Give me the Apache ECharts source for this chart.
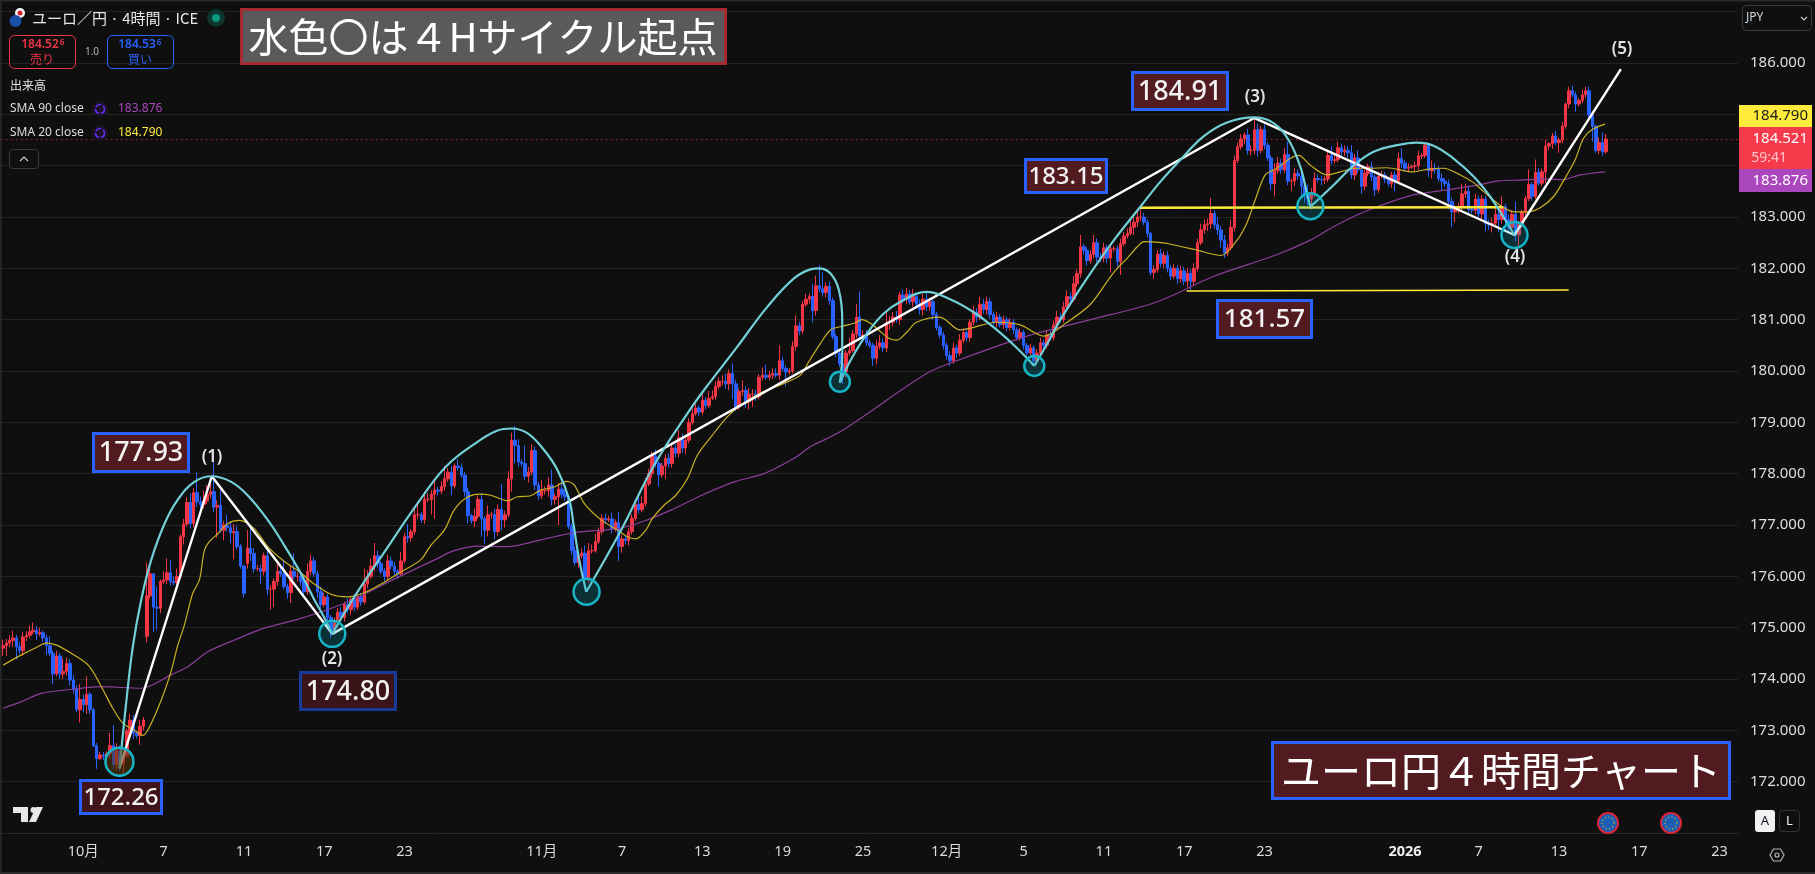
<!DOCTYPE html>
<html>
<head>
<meta charset="utf-8">
<script src="https://cdn.jsdelivr.net/npm/echarts@6/dist/echarts.min.js"></script>
<style>
html, body { margin: 0; padding: 0; background: #0f0f0f; }
#main { width: 1815px; height: 874px; }
</style>
</head>
<body>
<div id="main"></div>
<script>
// 4h closes, 10 per row
const closes = [
  174.65,174.7,174.75,174.8,174.63,174.55,174.82,174.85,174.92,174.95,
  174.88,174.9,174.8,174.65,174.5,174.1,174.45,174.1,174.15,174.3,
  173.98,173.8,173.4,173.6,173.5,173.7,173.4,172.7,172.45,172.52,
  172.5,172.55,172.7,172.33,172.6,172.35,172.5,172.99,173.2,172.95,
  172.9,173.08,173.2,175.62,176.05,175.4,175.38,175.9,175.93,176.07,
  175.9,175.88,176.0,176.77,177.02,177.44,177.03,177.63,177.45,177.4,
  177.47,177.6,177.65,177.35,177.38,176.9,177.0,176.95,176.85,176.87,
  176.58,176.2,175.67,176.55,176.45,176.15,176.15,176.1,176.4,175.75,
  175.75,175.9,176.1,176.05,175.8,175.68,176.1,176.0,176.0,175.9,
  175.7,176.1,176.3,176.05,175.7,175.45,175.6,175.2,174.95,175.1,
  175.3,175.2,175.45,175.35,175.55,175.4,175.6,175.5,175.85,176.0,
  176.2,176.4,176.25,176.1,176.0,176.3,176.2,176.1,176.05,176.3,
  176.77,176.75,176.87,177.2,177.2,177.1,177.5,177.5,177.6,177.68,
  177.66,177.75,177.9,178.03,177.76,178.15,178.12,177.97,177.65,177.18,
  177.08,177.17,177.5,177.12,176.9,177.2,177.2,176.87,177.3,177.1,
  177.2,177.9,178.65,178.55,178.23,178.2,177.95,178.03,178.45,177.78,
  177.57,177.67,177.67,177.78,177.5,177.55,177.7,177.6,177.55,176.97,
  176.5,176.27,176.4,176.45,175.96,176.5,176.5,176.68,176.87,177.13,
  177.1,177.12,176.93,177.05,176.58,176.73,176.7,176.87,177.13,177.4,
  177.3,177.42,177.8,178.0,178.35,178.2,177.98,178.15,178.3,178.2,
  178.5,178.4,178.7,178.5,178.65,179.0,179.17,179.28,179.2,179.43,
  179.33,179.47,179.5,179.7,179.8,179.8,179.75,179.95,179.75,179.3,
  179.6,179.62,179.4,179.55,179.55,179.5,179.88,179.92,179.88,179.92,
  179.95,179.92,180.2,180.05,179.98,180.0,180.48,180.88,180.78,181.3,
  181.4,181.45,181.18,181.66,181.6,181.53,181.65,181.37,180.67,180.35,
  180.14,179.98,180.35,180.4,180.72,181.05,180.68,180.7,180.55,180.5,
  180.25,180.48,180.55,180.45,180.95,180.95,181.05,181.0,181.48,181.4,
  181.5,181.35,181.45,181.3,181.2,181.4,181.25,181.35,181.1,180.85,
  180.7,180.5,180.3,180.2,180.45,180.35,180.6,180.75,180.65,180.95,
  181.15,181.05,181.3,181.2,181.35,181.1,180.95,181.05,180.9,181.0,
  180.85,180.95,180.8,180.65,180.75,180.5,180.35,180.45,180.2,180.35,
  180.55,180.5,180.7,180.65,180.9,181.05,181.0,181.25,181.45,181.4,
  181.7,181.9,182.42,182.35,182.15,182.27,182.5,182.22,182.2,182.4,
  182.2,182.38,182.38,182.13,182.48,182.63,182.68,182.8,182.9,183.0,
  183.0,182.9,182.68,181.92,181.98,182.28,182.1,182.25,182.0,181.85,
  182.0,181.8,181.95,181.75,181.9,181.75,182.0,182.5,182.75,182.85,
  182.87,183.07,182.85,182.75,182.55,182.3,182.4,182.8,184.1,184.37,
  184.52,184.6,184.3,184.3,184.7,184.3,184.7,184.4,184.15,183.65,
  183.9,184.05,183.92,184.22,183.7,183.7,183.85,183.8,183.6,183.43,
  183.35,183.47,183.75,183.73,183.72,183.74,184.2,184.1,184.12,184.35,
  184.27,184.3,184.25,183.82,184.15,183.92,183.6,183.85,183.98,183.78,
  183.53,183.8,183.82,183.74,183.65,183.82,183.7,184.14,184.05,183.95,
  183.97,183.99,184.0,184.19,184.2,184.4,183.9,183.95,183.93,183.75,
  183.7,183.65,183.3,183.1,183.15,183.2,183.45,183.5,183.15,183.13,
  183.35,183.06,183.35,182.87,182.85,182.88,183.05,182.95,183.2,182.95,
  182.8,183.05,182.65,182.85,183.1,183.36,183.63,183.4,183.87,183.66,
  183.88,184.38,184.43,184.58,184.45,184.5,184.77,185.2,185.46,185.38,
  185.2,185.27,185.38,185.46,184.99,184.77,184.3,184.45,184.27,184.52
];
// wick above the body, in 0.01 yen
const upWick = [
  12,8,10,14,6,9,10,8,12,15, 8,10,4,6,18,5,10,6,25,12, 8,10,8,30,10,35,5,3,5,6, 6,4,25,40,15,10,8,5,12,10,
  4,12,6,65,15,0,40,4,17,28, 25,10,15,5,10,10,18,8,40,10, 20,18,20,58,10,30,8,20,10,15, 12,5,3,35,45,10,8,8,6,15,
  8,6,18,10,25,6,12,35,8,8, 6,15,12,8,6,10,8,6,5,10, 8,10,6,12,6,10,5,8,30,12, 15,25,10,5,6,12,8,8,4,18,
  8,25,5,15,25,5,15,12,8,17, 6,10,25,8,12,5,13,8,6,8, 4,15,8,12,5,18,6,12,10,50, 8,15,15,28,12,5,35,10,12,8,
  6,20,8,15,30,6,12,14,8,4, 6,8,8,10,15,15,12,15,8,8, 10,6,12,6,20,8,6,8,8,5, 15,15,12,10,8,12,5,6,8,10,
  10,8,15,8,8,8,10,8,5,12, 6,14,12,10,8,12,15,8,20,8, 6,20,8,12,10,8,6,15,20,8, 10,10,30,8,6,6,10,20,8,6,
  10,6,25,20,40,32,8,10,6,5, 5,6,6,25,8,25,50,10,10,5, 5,12,15,8,20,12,10,12,6,10, 12,8,15,8,10,10,15,8,6,5,
  5,6,5,8,10,6,12,8,8,6, 12,8,15,10,10,8,6,10,6,8, 6,8,6,5,8,5,5,8,5,8, 10,6,10,8,8,12,8,10,12,8,
  15,8,23,6,6,8,15,8,8,10, 6,10,5,6,10,8,10,15,12,10, 20,8,5,3,8,8,10,8,8,6, 8,6,10,8,10,8,10,8,12,10,
  10,30,6,15,8,10,8,15,10,8, 10,5,12,10,21,12,8,10,6,5, 15,12,8,12,25,5,10,8,8,10, 20,10,12,8,8,6,12,18,10,12,
  8,10,8,15,8,15,6,8,6,10, 5,8,8,6,5,6,8,12,20,6, 8,3,8,10,5,4,5,15,10,6, 10,5,8,8,8,8,20,15,10,4,
  10,6,8,6,8,10,15,6,20,6, 10,8,25,8,5,5,30,5,25,8, 6,12,3,6,10,5,8,3,8,10, 6,5,10,8,8,5,3,10,20,10
];
// wick below the body, in 0.01 yen
const downWick = [
  15,20,8,12,25,6,10,8,6,5, 12,5,8,18,5,20,5,10,10,8, 10,8,5,25,15,18,8,3,20,3, 8,15,10,8,10,15,18,3,8,12,
  6,18,8,12,5,48,43,10,5,8, 8,5,6,3,15,5,10,8,10,22, 8,6,8,10,60,5,20,8,20,52, 6,5,8,10,15,8,5,25,8,12,
  40,35,8,6,5,12,20,6,10,8, 12,6,8,6,12,8,6,10,15,8, 10,6,8,6,10,8,6,8,5,8, 5,10,8,6,10,8,6,8,10,6,
  5,10,8,6,8,6,8,6,30,48, 8,6,8,6,18,5,6,5,10,15, 6,12,5,35,27,12,8,15,8,20, 15,5,25,35,10,6,8,12,6,10,
  8,6,8,12,12,10,55,8,8,5, 8,6,10,5,20,8,6,4,5,6, 8,4,10,6,28,12,8,10,6,5, 8,5,6,4,8,8,23,6,25,8,
  8,8,8,10,12,6,5,4,8,5, 8,5,4,6,5,8,10,12,30,8, 6,8,12,15,25,8,5,6,5,6, 8,5,10,6,28,5,5,8,8,6,
  5,8,23,10,6,8,10,8,5,8, 6,23,10,5,4,8,6,8,6,5, 15,12,6,8,8,15,8,6,10,8, 10,6,10,8,10,12,8,8,10,6,
  6,8,8,10,6,10,6,6,8,8, 6,10,6,8,10,8,6,10,5,8, 8,6,8,5,6,8,5,6,10,6, 6,8,6,5,6,8,5,6,6,8,
  5,6,8,8,10,6,8,10,8,8, 10,28,6,10,26,5,5,4,15,10, 8,6,8,6,12,6,8,10,8,8, 6,10,8,8,12,18,8,6,5,8,
  12,10,8,10,15,10,6,5,8,5, 6,10,8,10,8,12,6,8,6,12, 25,6,8,6,8,20,10,8,18,15, 12,20,8,6,10,8,6,8,6,5,
  8,8,10,8,10,6,15,8,6,8, 12,6,5,8,6,8,20,6,10,5, 8,3,10,8,6,5,12,15,8,6, 18,6,15,30,20,8,10,8,8,6,
  8,10,12,15,10,15,8,25,8,20, 10,8,12,25,6,6,5,8,5,5, 6,22,8,10,5,20,6,5,8,5, 15,5,5,6,5,30,5,8,8,4
];
// bars that do not open at the previous close (weekend gaps)
const gapOpenIndex = [0, 43, 73];
const gapOpenValue = [174.6, 174.83, 176.25];

const slotCount = 519; // bars plus the empty space on the right
const tickIndex = [24,48,72,96,120,161,185,209,233,257,282,305,329,353,377,419,441,465,489,513];
const tickText = ['10月','7','11','17','23','11月','7','13','19','25','12月','5','11','17','23','2026','7','13','17','23'];
const lastPrice = 184.521;

// [bar index, price]
const sma20 = [[0,174.27],[5.5,174.47],[9.5,174.6],[13,174.7],[16,174.66],[20.4,174.5],[25.6,174.26],[29.4,173.85],[32.8,173.43],[35.8,173.14],[39.3,173.0],[41.8,172.9],[43.8,173.07],[47.3,173.59],[50.2,174.14],[52.2,174.65],[54.2,175.05],[56.7,175.67],[58.7,175.93],[60.2,176.51],[61.7,176.68],[64.2,176.83],[67.2,177.03],[70.6,177.09],[75.1,176.93],[79.1,176.58],[84.1,176.29],[88.6,176.09],[93,175.85],[98,175.65],[103,175.6],[108,175.68],[113,175.85],[118,176.05],[124.8,176.32],[127.9,176.61],[131.9,176.9],[134.8,177.29],[138.3,177.52],[142.3,177.6],[145.8,177.58],[150.8,177.47],[153.7,177.55],[157.7,177.57],[160.7,177.68],[164.7,177.74],[168.4,177.85],[170.7,177.78],[173.7,177.42],[178.7,177.1],[183.7,176.9],[186.6,176.77],[189.1,176.73],[192.1,176.9],[194.1,177.13],[197.6,177.39],[201.1,177.58],[204.6,177.91],[207.5,178.36],[212,178.75],[216.5,179.11],[220.5,179.34],[226.4,179.57],[233.4,179.76],[238.3,179.92],[240.8,180.18],[244.3,180.54],[247.3,180.8],[251.3,180.88],[254.3,180.93],[256.7,181.0],[259.2,180.93],[262.2,180.77],[264.7,180.64],[267.2,180.6],[270,180.75],[273,180.95],[280,181.05],[286,180.8],[297,180.95],[304,180.9],[311,180.68],[318,180.95],[325,181.3],[331,181.84],[333,182.0],[336,182.2],[339,182.42],[341,182.52],[346,182.5],[349,182.47],[356,182.37],[364,182.25],[368.8,182.55],[371.7,182.88],[374.2,183.33],[377.2,183.82],[380.7,183.95],[384.7,184.14],[387.2,184.2],[390.7,184.01],[395.6,183.82],[399.6,183.88],[404.6,183.95],[408.6,183.95],[413.5,183.96],[421.5,183.88],[425.5,183.93],[430.5,183.95],[435.5,183.82],[439.5,183.67],[442.4,183.5],[447.4,183.23],[451.4,183.1],[455.4,183.1],[459.4,183.18],[463.4,183.4],[466.3,183.7],[469.8,184.11],[472.3,184.53],[474.8,184.7],[478.8,184.81]];
const sma90 = [[0,173.43],[5.5,173.56],[11.4,173.72],[20.9,173.8],[29.4,173.85],[41.3,173.82],[50.2,174.08],[55.2,174.24],[61.2,174.53],[69.2,174.76],[78.1,174.99],[89,175.18],[103,175.5],[117,175.95],[129.9,176.35],[134.8,176.5],[141.8,176.59],[150.8,176.58],[160.7,176.71],[170.7,176.85],[184.6,176.94],[192.6,177.1],[199.6,177.29],[208.5,177.57],[218.5,177.84],[227.4,178.0],[236.4,178.3],[241.4,178.53],[250.3,178.82],[276,179.95],[285,180.2],[307,180.7],[325,181.0],[345,181.35],[362,181.85],[380,182.25],[390.7,182.55],[397.6,182.81],[404.6,183.04],[411.5,183.22],[421.5,183.43],[431.5,183.53],[441.4,183.63],[446.4,183.7],[453.4,183.72],[461.4,183.74],[466.3,183.73],[471.3,183.82],[478.8,183.88]];

// white wave lines (1)-(5)
const waveLine = [[34.8,172.26],[62.4,177.95],[98.4,174.88],[373.9,184.93],[451.7,182.65],[483.5,185.88]];
// cyan cycle arcs
const arcA = [[34.8,172.26],[36.8,173.53],[38.8,174.63],[41.3,175.54],[44.3,176.32],[48.3,177.03],[52.2,177.49],[57.2,177.84],[62.4,177.95],[68.2,177.84],[73.1,177.58],[79.1,177.1],[84.1,176.6],[89,176.06],[93,175.55],[96,175.2],[98.4,174.88]];
const arcB = [[98.4,174.88],[104,175.5],[109,176.0],[113,176.38],[123.9,177.42],[132.4,178.14],[141.8,178.62],[147.8,178.84],[151.8,178.88],[156.7,178.79],[161.7,178.46],[165.7,178.07],[169.2,177.5],[170.6,176.97],[172.2,176.32],[174.3,175.7]];
const arcC = [[174.3,175.7],[184.7,176.9],[194.6,178.17],[204.6,179.18],[209.5,179.63],[219.4,180.47],[228.4,181.25],[236.3,181.8],[241.3,181.98],[243.8,182.0],[247.3,181.9],[249.8,181.58],[250.8,181.0],[250.8,180.34],[250.1,179.77]];
const arcD = [[250.1,179.77],[253.3,180.21],[258.2,180.73],[263.2,181.12],[268.2,181.35],[276,181.54],[283,181.4],[290,181.15],[297,180.8],[303,180.45],[308.2,180.1]];
const arcE = [[308.2,180.1],[312.4,180.57],[316,181.0],[324,181.81],[332,182.55],[339.9,183.2],[345.9,183.69],[351.8,184.11],[358.8,184.57],[365.8,184.84],[373.9,184.94],[379.7,184.83],[384.2,184.5],[387.7,183.98],[389.7,183.46],[390.7,183.2]];
const arcF = [[390.7,183.2],[397.6,183.62],[403.6,184.0],[409.6,184.27],[416.6,184.4],[422.5,184.45],[427.5,184.39],[433.5,184.14],[439.5,183.79],[444.4,183.4],[448.4,183.0],[451.7,182.65]];
// yellow support lines
const line18315 = [[339.9,183.18],[448.3,183.19]];
const line18157 = [[353.7,181.56],[467.9,181.58]];
// circled cycle starts
const cycleLows = [[34.8,172.39],[98.4,174.88],[174.4,175.7],[250.1,179.79],[308.2,180.1],[390.7,183.21],[451.7,182.65]];
const cycleSizes = [28,26,26,20,20,26,26];

const RED = '#f23645', BLUE = '#2962ff', YEL = '#ffeb3b', PUR = '#ab47bc', MAROON = '#521b20';
const CJK = '"Noto Sans CJK JP","Noto Sans",sans-serif';
const NUM = '"Noto Sans","Noto Sans CJK JP",sans-serif';

var candles = closes.map(function (c, i) {
  var g = gapOpenIndex.indexOf(i);
  var o = g >= 0 ? gapOpenValue[g] : closes[i - 1];
  var top = Math.max(o, c), bot = Math.min(o, c);
  return [o, c, +(bot - downWick[i] / 100).toFixed(2), +(top + upWick[i] / 100).toFixed(2)];
});
var categories = [];
for (var n = 0; n < slotCount; n++) {
  var k = tickIndex.indexOf(n);
  categories.push(k >= 0 ? tickText[k] : '');
}

function pathSeries(data, color, width, smooth) {
  return {
    type: 'line', xAxisIndex: 1, data: data, showSymbol: false, silent: true,
    smooth: smooth, lineStyle: { color: color, width: width }, z: 5
  };
}

// page furniture around the plot
function box(x, y, w, h, fill, stroke, lw, r) {
  return { type: 'rect', z: 100, shape: { x: x, y: y, width: w, height: h, r: r || 0 }, style: { fill: fill, stroke: stroke || null, lineWidth: lw || 0 } };
}
function txt(x, y, text, fill, font, align) {
  return { type: 'text', z: 101, x: x, y: y, style: { text: text, fill: fill, font: font, textAlign: align || 'center', textVerticalAlign: 'middle' } };
}
function dot(x, y, r, fill, stroke, lw, dash) {
  return { type: 'circle', z: 100, shape: { cx: x, cy: y, r: r }, style: { fill: fill, stroke: stroke || null, lineWidth: lw || 0, lineDash: dash || null } };
}
function numBox(x, y, w, h, label, size, fill, border) {
  return [box(x + 1.5, y + 1.5, w - 3, h - 3, fill || MAROON, border || BLUE, 3), txt(x + w / 2, y + h / 2 + 1, label, '#f2f2f2', '500 ' + size + 'px ' + NUM)];
}
function waveNo(x, y, label) {
  return txt(x, y, label, '#e4e4e4', '600 17px ' + NUM);
}

var gfx = [].concat(
  // frame
  box(0, 0, 1815, 1.5, '#2a2a2a'), box(0, 0, 1.5, 874, '#2a2a2a'), box(0, 872, 1815, 2, '#2a2a2a'),
  // header
  dot(20, 13, 5, '#f4f4f4'), dot(20, 13, 2.5, '#d8232f'), dot(15.5, 21, 6, '#1a4fa8'),
  txt(32, 18, 'ユーロ／円 · 4時間 · ICE', '#e6e6e6', '15px ' + CJK, 'left'),
  dot(216, 18, 9, '#0e3530'), dot(216, 18, 4, '#089981'),
  box(9.5, 35.5, 66, 33, 'rgba(0,0,0,0)', RED, 1, 5),
  txt(40, 45, '184.52', RED, '600 12px ' + NUM), txt(62, 43, '6', RED, '600 8px ' + NUM),
  txt(42, 59, '売り', RED, '12px ' + CJK),
  txt(92, 52, '1.0', '#b4b4b4', '10px ' + NUM),
  box(107.5, 35.5, 66, 33, 'rgba(0,0,0,0)', BLUE, 1, 5),
  txt(137, 45, '184.53', BLUE, '600 12px ' + NUM), txt(159, 43, '6', BLUE, '600 8px ' + NUM),
  txt(140, 59, '買い', BLUE, '12px ' + CJK),
  txt(10, 85, '出来高', '#e0e0e0', '12px ' + CJK, 'left'),
  txt(10, 109, 'SMA 90 close', '#dcdcdc', '12px ' + NUM, 'left'),
  dot(100, 109, 8, '#191426'), dot(100, 109, 4.5, 'rgba(0,0,0,0)', '#6a2cf0', 1.6, [6, 2]),
  txt(118, 109, '183.876', PUR, '12px ' + NUM, 'left'),
  txt(10, 133, 'SMA 20 close', '#dcdcdc', '12px ' + NUM, 'left'),
  dot(100, 133, 8, '#191426'), dot(100, 133, 4.5, 'rgba(0,0,0,0)', '#6a2cf0', 1.6, [6, 2]),
  txt(118, 133, '184.790', YEL, '12px ' + NUM, 'left'),
  box(9.5, 149.5, 29, 19, '#0f0f0f', '#3a3a3a', 1, 3),
  { type: 'polyline', z: 101, shape: { points: [[20, 161], [24, 157], [28, 161]] }, style: { stroke: '#cccccc', lineWidth: 1.2, fill: null } },
  // title boxes
  box(241.5, 9.5, 484, 54, '#5a5a5a', '#a52a32', 3),
  txt(483, 37, '水色〇は４Hサイクル起点', '#ffffff', '40px ' + CJK),
  box(1272.5, 742.5, 457, 56, MAROON, BLUE, 3),
  txt(1501, 771, 'ユーロ円４時間チャート', '#ffffff', '40px ' + CJK),
  // value boxes
  numBox(92, 432, 98, 41, '177.93', 27),
  numBox(299, 671, 98, 40, '174.80', 27, '#3a1418', '#1a3a99'),
  numBox(79, 779, 84, 36, '172.26', 24, '#40151a'),
  numBox(1024, 158, 84, 36, '183.15', 24),
  numBox(1131, 71, 98, 40, '184.91', 27),
  numBox(1216, 299, 97, 40, '181.57', 26),
  waveNo(212, 457, '(1)'), waveNo(332, 659, '(2)'), waveNo(1255, 97, '(3)'), waveNo(1515, 257, '(4)'), waveNo(1622, 49, '(5)'),
  // price tags
  box(1739, 105, 73, 22, YEL),
  txt(1808, 116, '184.790', '#1a1a1a', '15px ' + NUM, 'right'),
  box(1739, 127, 73, 42, '#f53b4b'),
  txt(1808, 139, '184.521', '#ffffff', '15px ' + NUM, 'right'),
  txt(1787, 158, '59:41', '#ffc4c9', '14px ' + NUM, 'right'),
  box(1739, 169, 73, 23, PUR),
  txt(1808, 181, '183.876', '#ffffff', '15px ' + NUM, 'right'),
  // currency button
  box(1742.5, 5.5, 69, 25, '#0f0f0f', '#3c3c3c', 1, 4),
  txt(1746, 18, 'JPY', '#cfd8e3', '12px ' + NUM, 'left'),
  { type: 'polyline', z: 101, shape: { points: [[1801, 17], [1804, 20], [1807, 17]] }, style: { stroke: '#c8c8c8', lineWidth: 1.2, fill: null } },
  // A / L buttons
  box(1755, 810, 20, 22, '#f2f2f2', null, 0, 3),
  txt(1765, 821, 'A', '#131722', '13px ' + NUM),
  box(1779.5, 810.5, 20, 21, '#0f0f0f', '#333333', 1, 3),
  txt(1789.5, 821, 'L', '#f0f0f0', '13px ' + NUM),
  // settings icon
  { type: 'polygon', z: 101, shape: { points: [[1770, 855], [1773.5, 849], [1780.5, 849], [1784, 855], [1780.5, 861], [1773.5, 861]] }, style: { stroke: '#b4b4b4', lineWidth: 1.2, fill: null } },
  dot(1777, 855, 2, 'rgba(0,0,0,0)', '#b4b4b4', 1.2),
  // event flags
  dot(1608, 823, 10, '#1b5fb5', '#d9263a', 2), dot(1608, 823, 6, 'rgba(0,0,0,0)', '#d8c62c', 1.2, [1, 2.5]),
  dot(1671, 823, 10, '#1b5fb5', '#d9263a', 2), dot(1671, 823, 6, 'rgba(0,0,0,0)', '#d8c62c', 1.2, [1, 2.5]),
  // TV logo
  { type: 'polygon', z: 101, shape: { points: [[13, 807], [28, 807], [28, 822], [21, 822], [21, 813], [13, 813]] }, style: { fill: '#e8e8e8' } },
  dot(33.5, 810, 3, '#e8e8e8'),
  { type: 'polygon', z: 101, shape: { points: [[36, 807], [43, 807], [36, 822], [29, 822]] }, style: { fill: '#e8e8e8' } }
);

var chart = echarts.init(document.getElementById('main'), null, { renderer: 'canvas' });
chart.setOption({
  animation: false,
  backgroundColor: '#0f0f0f',
  textStyle: { fontFamily: NUM },
  grid: { left: 0, right: 77, top: 11.7, bottom: 41, containLabel: false },
  xAxis: [
    {
      type: 'category', data: categories, boundaryGap: true,
      axisLine: { lineStyle: { color: '#262626' } }, axisTick: { show: false }, splitLine: { show: false },
      axisLabel: {
        interval: 0, margin: 12, color: '#dcdcdc', fontSize: 14.5, fontFamily: NUM,
        formatter: function (v) { return v === '2026' ? '{b|2026}' : v; },
        rich: { b: { fontWeight: 'bold', fontSize: 14.5, color: '#f0f0f0', fontFamily: NUM } }
      }
    },
    { type: 'value', min: -0.5, max: slotCount - 0.5, show: false, splitLine: { show: false } }
  ],
  yAxis: {
    type: 'value', position: 'right', min: 171, max: 187, interval: 1,
    axisLine: { show: false }, axisTick: { show: false },
    splitLine: { lineStyle: { color: '#242424', width: 1 } },
    axisLabel: {
      margin: 12, color: '#dedede', fontSize: 15, fontFamily: NUM,
      formatter: function (v) { return v === 187 || v === 171 ? '' : v.toFixed(3); }
    }
  },
  graphic: { elements: gfx },
  series: [
    {
      type: 'candlestick', data: candles, barWidth: 3, z: 3, silent: true,
      itemStyle: { color: RED, color0: BLUE, borderColor: RED, borderColor0: BLUE, borderWidth: 1 },
      markLine: {
        silent: true, symbol: ['none', 'none'], label: { show: false },
        lineStyle: { color: RED, type: [1, 4], width: 1 }, data: [{ yAxis: lastPrice }]
      }
    },
    pathSeries(sma90, '#8a3f9a', 1.2, 0.3),
    pathSeries(sma20, '#c9b224', 1.2, 0.3),
    pathSeries(line18315, YEL, 2.4, false),
    pathSeries(line18157, YEL, 1.5, false),
    pathSeries(waveLine, '#ffffff', 2.4, false),
    pathSeries(arcA, '#72d0d8', 2.2, 0.4),
    pathSeries(arcB, '#72d0d8', 2.2, 0.4),
    pathSeries(arcC, '#72d0d8', 2.2, 0.4),
    pathSeries(arcD, '#72d0d8', 2.2, 0.4),
    pathSeries(arcE, '#72d0d8', 2.2, 0.4),
    pathSeries(arcF, '#72d0d8', 2.2, 0.4),
    {
      type: 'scatter', xAxisIndex: 1, silent: true, z: 6,
      data: cycleLows,
      symbolSize: function (v, p) { return cycleSizes[p.dataIndex]; },
      itemStyle: {
        color: function (p) { return p.dataIndex === 0 ? 'rgba(90,55,10,0.55)' : 'rgba(0,170,190,0.22)'; },
        borderColor: '#17b4c6', borderWidth: 2.5, opacity: 1
      }
    }
  ]
});
</script>
</body>
</html>
